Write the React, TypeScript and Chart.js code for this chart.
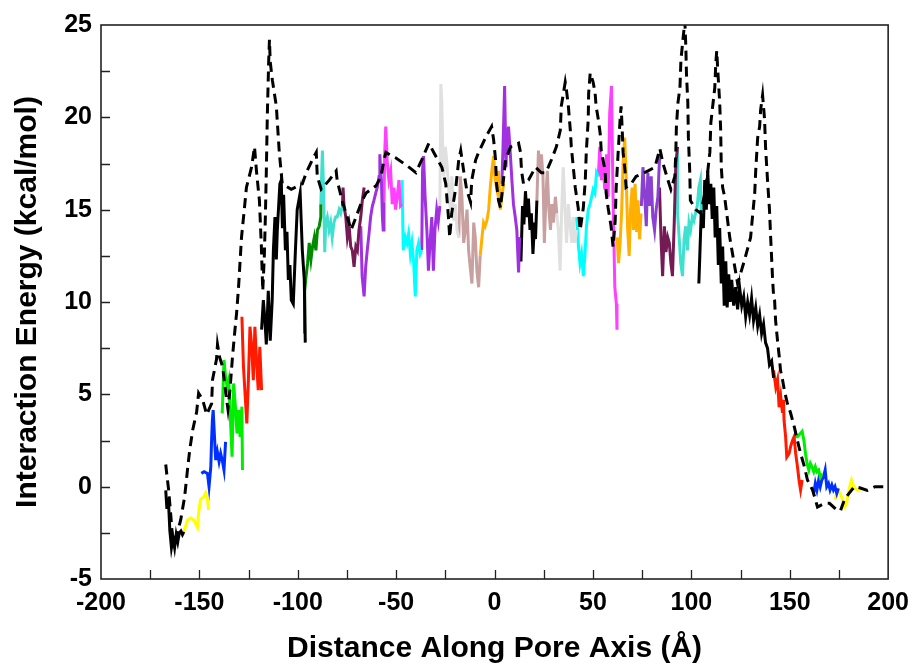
import React, { useEffect, useRef } from 'react';
import { Chart, registerables } from 'chart.js';

Chart.register(...registerables);

// ---- axis definition ----
const X_MIN = -200;
const X_MAX = 200;
const X_STEP = 50;
const X_MINOR = 25;
const Y_MIN = -5;
const Y_MAX = 25;
const Y_STEP = 5;
const Y_MINOR = 2.5;
const X_TITLE = 'Distance Along Pore Axis (Å)';
const Y_TITLE = 'Interaction Energy (kcal/mol)';

// ---- dashed reference profile [x, y] ----
const dashedProfile: number[][] = [
  [-167.1, 1.2], [-166.6, 0.7], [-165.6, -0.2], [-164.5, -1.6], [-163.5, -3.0], [-161.5, -2.6], [-159.5, -1.8],
  [-157.5, -0.55], [-155.9, 1.06], [-154.9, 2.0], [-153.4, 3.07], [-151.4, 4.04], [-150.4, 5.07], [-148.3, 4.7],
  [-146.3, 3.9], [-143.8, 4.5], [-143.3, 5.8], [-141.3, 6.9], [-140.8, 7.7], [-139.7, 7.0], [-138.2, 6.5],
  [-136.5, 5.0], [-135.5, 4.2], [-134.5, 5.2], [-133.2, 7.0], [-132.1, 8.3], [-131.1, 9.4], [-130.1, 10.8],
  [-128.6, 13.5], [-127.1, 15.1], [-126.1, 16.2], [-123.5, 17.3], [-122.0, 18.4], [-121.0, 17.1], [-119.5, 15.5],
  [-118.5, 13.0], [-117.8, 10.6], [-117.0, 12.5], [-116.5, 14.5], [-116.0, 17.0], [-115.5, 20.0], [-114.8, 23.0],
  [-114.4, 24.2], [-114.0, 23.0], [-112.9, 22.0], [-110.9, 20.6], [-109.4, 18.1], [-107.9, 16.4], [-103.3, 16.1],
  [-97.7, 16.4], [-95.7, 17.0], [-92.6, 17.7], [-90.6, 18.1], [-90.1, 16.8], [-88.1, 16.1], [-84.0, 16.6],
  [-80.5, 17.1], [-80.0, 16.6], [-77.5, 15.5], [-74.9, 14.6], [-72.9, 13.9], [-70.4, 14.6], [-67.3, 15.5],
  [-65.3, 15.9], [-60.2, 16.3], [-57.7, 16.8], [-56.2, 17.7], [-55.2, 18.1], [-52.1, 17.9], [-50.1, 17.8],
  [-43.5, 17.3], [-40.0, 17.0], [-37.0, 17.7], [-33.4, 18.6], [-30.9, 18.1], [-26.8, 17.3], [-24.8, 16.4],
  [-23.3, 14.4], [-22.8, 13.5], [-21.8, 14.8], [-19.7, 16.2], [-18.2, 17.7], [-17.2, 18.2], [-15.7, 17.1],
  [-14.2, 16.1], [-12.2, 15.4], [-11.6, 16.6], [-9.6, 17.7], [-8.1, 18.1], [-4.6, 18.9], [-1.5, 19.5],
  [-0.5, 18.8], [0.5, 17.7], [1.0, 16.4], [2.0, 15.5], [3.0, 15.1], [5.6, 17.7], [8.1, 18.4], [12.2, 18.6],
  [13.2, 18.1], [13.7, 17.1], [14.7, 16.4], [17.2, 16.6], [20.8, 17.3], [23.8, 17.0], [25.8, 17.0], [27.3, 17.3],
  [28.9, 17.7], [31.4, 18.4], [33.4, 19.3], [33.9, 20.6], [35.9, 21.9], [36.5, 21.5], [37.5, 20.6], [38.5, 19.3],
  [39.0, 18.4], [40.0, 17.3], [41.0, 16.2], [42.5, 15.1], [43.5, 13.9], [45.1, 15.1], [46.1, 16.6], [46.6, 18.1],
  [47.6, 19.9], [47.8, 21.3], [48.6, 22.4], [50.1, 21.9], [51.1, 21.3], [51.6, 20.6], [52.7, 19.9], [53.7, 19.1],
  [54.2, 18.2], [56.2, 17.1], [56.7, 15.9], [57.7, 15.1], [59.2, 14.1], [60.2, 13.0], [61.3, 14.4], [61.8, 16.2],
  [62.8, 18.1], [63.8, 19.9], [64.3, 20.6], [64.8, 19.5], [65.3, 18.1], [66.3, 17.1], [66.8, 16.2], [69.4, 16.4],
  [71.9, 16.8], [78.0, 17.1], [81.5, 17.3], [84.0, 18.3], [85.6, 17.5], [88.1, 16.6], [89.6, 16.1], [91.6, 16.8],
  [92.1, 18.1], [92.4, 19.5], [93.2, 20.8], [94.2, 21.6], [94.7, 23.1], [95.7, 24.2], [96.7, 25.2], [97.2, 23.8],
  [97.5, 22.4], [98.2, 20.8], [98.5, 18.9], [99.2, 17.0], [99.5, 15.5], [102.3, 15.0], [104.8, 14.8], [107.4, 16.2],
  [109.4, 18.1], [109.9, 19.7], [111.9, 21.6], [112.4, 22.9], [112.9, 23.6], [113.4, 22.6], [114.4, 20.8],
  [114.9, 19.3], [115.2, 17.3], [115.9, 16.2], [116.9, 15.7], [119.5, 13.5], [123.5, 11.0], [127.1, 12.3],
  [130.1, 13.5], [132.2, 15.9], [132.7, 17.1], [133.7, 18.9], [134.7, 19.5], [135.2, 20.4], [136.2, 21.2],
  [137.2, 19.9], [137.7, 18.4], [138.7, 16.6], [139.7, 15.0], [140.3, 13.5], [141.3, 11.2], [141.8, 10.3],
  [142.3, 10.1], [142.8, 9.0], [143.8, 7.9], [144.8, 6.9], [145.3, 6.3], [146.3, 5.8], [147.3, 5.2], [148.8, 4.5],
  [150.4, 4.0], [152.4, 3.2], [153.9, 2.5], [155.5, 1.8], [157.5, 1.06], [159.0, 0.36], [161.6, -0.18],
  [164.1, -1.1], [167.7, -0.9], [170.2, -0.9], [174.3, -1.3], [175.8, -1.3], [177.8, -0.7], [180.3, -0.34],
  [182.8, 0.0], [185.9, -0.07], [189.4, -0.2], [193.4, 0.0], [199.5, 0.0],
];

// ---- coloured window segments [x, y] ----
const blackLeftBottom: number[][] = [
  [-167.1, -0.2], [-166.5, -1.2], [-165.8, -0.6], [-165.0, -2.4], [-164.2, -3.3], [-163.4, -2.8], [-162.6, -3.3],
  [-161.8, -2.6], [-161.0, -3.0], [-160.2, -2.5], [-159.4, -2.4], [-158.6, -2.6], [-157.9, -2.45],
];
const yellowLeft: number[][] = [
  [-157.9, -2.45], [-156.0, -1.8], [-154.4, -1.7], [-152.9, -1.8], [-151.0, -2.2], [-150.4, -1.4], [-149.4, -0.7],
  [-147.8, -0.55], [-146.8, -0.34], [-145.9, -0.7], [-145.3, -1.26],
];
const blueLeft: number[][] = [
  [-149.0, 0.72], [-147.6, 0.81], [-145.9, 0.72], [-145.1, 0.0], [-144.2, 1.08], [-143.8, 2.53], [-143.4, 3.6],
  [-143.0, 4.15], [-142.5, 3.07], [-142.0, 1.98], [-141.7, 1.44], [-140.9, 1.9], [-140.0, 1.35], [-139.2, 1.8],
  [-138.4, 1.44], [-137.5, 0.9], [-136.7, 2.43],
];
const greenLeft: number[][] = [
  [-138.4, 3.97], [-137.5, 6.86], [-136.7, 5.95], [-135.9, 5.4], [-135.1, 5.77], [-134.2, 3.6], [-133.4, 1.62],
  [-132.6, 5.59], [-131.7, 4.33], [-130.9, 2.89], [-130.1, 4.15], [-129.3, 2.7], [-128.4, 4.33], [-128.1, 0.9],
];
const redLeft: number[][] = [
  [-128.4, 9.2], [-127.6, 6.5], [-126.7, 4.87], [-125.9, 3.43], [-125.1, 5.77], [-124.3, 8.66], [-123.4, 7.58],
  [-122.6, 5.77], [-121.8, 8.66], [-120.9, 6.68], [-120.1, 5.23], [-119.3, 7.58], [-118.4, 5.23],
];
const blackLeftMain: number[][] = [
  [-118.4, 8.5], [-117.5, 10.1], [-116.7, 9.0], [-116.0, 7.7], [-115.0, 10.6], [-114.0, 7.9], [-113.0, 10.1],
  [-112.4, 12.8], [-111.6, 14.6], [-110.9, 12.3], [-110.4, 13.9], [-109.1, 16.4], [-108.4, 16.6], [-107.8, 14.0],
  [-107.2, 15.8], [-106.3, 12.8], [-105.5, 13.8], [-104.8, 11.2], [-104.0, 12.0], [-103.3, 10.1], [-102.3, 9.9],
  [-101.2, 12.8], [-100.3, 15.0], [-98.8, 15.9], [-97.7, 12.8], [-96.7, 11.2], [-96.2, 7.8],
];
const darkGreen: number[][] = [
  [-96.5, 8.3], [-96.5, 10.6], [-95.8, 11.4], [-95.0, 12.1], [-94.2, 13.2], [-93.3, 12.3], [-92.5, 13.0],
  [-91.6, 13.5], [-90.8, 12.8], [-90.0, 13.9], [-89.1, 14.1], [-88.3, 14.6], [-88.3, 15.3],
];
const turquoiseLeft: number[][] = [
  [-88.3, 15.3], [-87.5, 18.2], [-86.9, 16.1], [-86.3, 12.7], [-85.8, 14.3], [-85.0, 14.6], [-84.1, 13.9],
  [-83.3, 14.3], [-82.5, 13.5], [-81.6, 14.3], [-80.8, 14.6], [-80.0, 14.6], [-79.0, 15.0], [-78.2, 14.8], [-77.4, 15.2],
];
const maroonLeft: number[][] = [
  [-77.3, 15.2], [-77.0, 16.2], [-76.5, 15.2], [-75.6, 14.6], [-74.8, 13.5], [-73.9, 14.1], [-73.1, 13.0],
  [-72.3, 12.8], [-71.4, 11.9], [-70.5, 13.0], [-69.7, 12.8], [-68.9, 13.9], [-68.0, 14.6], [-67.2, 15.5], [-66.3, 16.2],
];
const violetLeft: number[][] = [
  [-68.0, 14.1], [-67.3, 11.4], [-66.3, 10.3], [-65.5, 11.9], [-64.7, 12.8], [-63.8, 13.7], [-63.0, 14.6],
  [-62.1, 15.2], [-61.3, 15.5], [-60.4, 15.9], [-59.6, 16.2], [-58.7, 16.8], [-58.3, 18.0], [-57.9, 17.1],
  [-57.5, 16.6], [-57.0, 14.6], [-56.6, 13.9], [-56.2, 15.4],
];
const magentaLeft: number[][] = [
  [-56.2, 15.4], [-55.8, 18.2], [-55.3, 19.5], [-54.5, 17.5], [-53.7, 16.6], [-52.8, 17.1], [-52.0, 15.3],
  [-51.1, 16.2], [-50.3, 15.0], [-49.5, 15.7], [-48.6, 16.6], [-47.8, 15.2], [-47.0, 15.3],
];
const cyanLeft: number[][] = [
  [-47.0, 16.6], [-46.4, 12.8], [-45.3, 13.5], [-44.5, 13.2], [-43.7, 13.7], [-42.8, 12.6], [-42.0, 13.2],
  [-41.1, 12.1], [-40.3, 10.3], [-39.5, 12.8], [-38.6, 13.2], [-37.8, 12.6], [-37.0, 12.8],
];
const violetMid: number[][] = [
  [-37.0, 12.8], [-36.6, 17.1], [-36.1, 17.9], [-35.3, 15.7], [-34.4, 13.9], [-33.6, 11.7], [-32.8, 13.2],
  [-31.9, 14.6], [-31.1, 11.7], [-30.3, 13.9], [-29.4, 15.0], [-28.6, 14.4], [-27.8, 15.2],
];
const greyLeft: number[][] = [
  [-27.8, 15.2], [-27.3, 21.8], [-26.8, 20.8], [-26.3, 18.0], [-25.8, 16.8], [-25.0, 18.4], [-24.2, 17.5],
  [-23.3, 16.1], [-22.5, 15.0], [-21.7, 16.8], [-20.8, 14.4], [-20.0, 15.3], [-19.1, 13.9], [-18.2, 13.5],
];
const brownLeft: number[][] = [
  [-18.2, 13.5], [-17.4, 16.8], [-16.6, 15.7], [-15.7, 13.2], [-14.9, 13.9], [-14.0, 15.0], [-13.2, 12.8],
  [-12.4, 11.9], [-11.5, 11.0], [-10.6, 14.3], [-9.8, 13.5], [-9.0, 11.7], [-8.1, 10.8], [-7.3, 12.5],
];
const orangeLeft: number[][] = [
  [-7.3, 12.5], [-6.4, 13.5], [-5.6, 14.3], [-4.8, 14.1], [-3.9, 14.4], [-3.0, 15.0], [-2.2, 16.2], [-1.4, 17.1],
  [-0.5, 17.9], [0.3, 16.6], [1.2, 16.1], [2.0, 17.1], [2.9, 15.0], [3.7, 15.7], [4.6, 16.4],
];
const violetRightMid: number[][] = [
  [3.7, 16.4], [4.3, 18.4], [5.1, 21.7], [5.8, 17.3], [6.2, 18.6], [7.1, 19.5], [7.9, 18.2], [8.8, 16.6],
  [9.6, 15.3], [10.5, 14.6], [11.3, 13.9], [12.2, 11.6], [12.7, 13.5],
];
const blackMid: number[][] = [
  [12.7, 13.5], [13.4, 12.2], [14.2, 15.2], [14.9, 14.2], [15.7, 16.0], [16.5, 14.6], [17.2, 15.6], [18.0, 13.9],
  [18.7, 14.8], [19.5, 12.6], [20.3, 14.3], [20.8, 13.4], [21.5, 15.5],
];
const brownRight: number[][] = [
  [21.5, 15.5], [22.3, 18.2], [23.0, 17.0], [23.8, 18.0], [24.6, 16.8], [25.3, 13.2], [26.1, 15.7], [26.8, 17.1],
  [27.6, 15.0], [28.4, 13.9], [29.1, 15.3], [29.9, 14.3], [30.9, 15.7], [31.6, 14.8],
];
const greyRight: number[][] = [
  [31.6, 14.8], [32.4, 13.9], [33.3, 11.7], [34.1, 15.0], [34.9, 17.3], [35.8, 15.0], [36.6, 13.2], [37.5, 15.3],
  [38.3, 14.3], [39.2, 13.2], [40.0, 14.6], [40.8, 13.2], [41.7, 13.9],
];
const cyanRight: number[][] = [
  [41.7, 14.6], [42.5, 13.2], [43.4, 12.1], [44.2, 12.6], [45.1, 11.4], [45.9, 12.5], [46.7, 14.1], [47.6, 15.0],
  [48.5, 15.3], [49.3, 15.7], [50.1, 16.1], [51.0, 15.9], [51.8, 17.0], [52.7, 16.8],
];
const magentaRight: number[][] = [
  [52.7, 16.8], [53.5, 18.4], [54.3, 16.6], [55.2, 17.5], [56.0, 16.1], [56.9, 18.0], [57.7, 15.7], [58.5, 20.2],
  [59.4, 21.7], [60.2, 15.7], [61.1, 10.8], [61.9, 9.9], [62.2, 8.5],
];
const orangeRight: number[][] = [
  [62.3, 13.5], [63.0, 12.1], [63.8, 13.2], [64.6, 15.0], [65.3, 17.5], [66.1, 18.9], [66.8, 17.1], [67.6, 14.0],
  [68.4, 12.5], [69.1, 15.0], [69.9, 16.2], [70.6, 13.9], [71.4, 16.4], [72.2, 13.8], [72.9, 15.5], [73.7, 13.4],
  [74.4, 14.8],
];
const indigoRight: number[][] = [
  [74.6, 15.2], [75.4, 17.3], [76.3, 15.7], [77.1, 14.1], [77.9, 17.0], [78.8, 15.2], [79.6, 16.8], [80.4, 14.6],
  [81.3, 13.9], [82.1, 15.0], [83.0, 15.7], [83.8, 17.7], [84.6, 18.0],
];
const maroonRight: number[][] = [
  [83.8, 16.2], [84.6, 13.4], [85.4, 11.4], [86.3, 14.1], [87.1, 12.7], [88.0, 13.5], [88.8, 13.2], [89.6, 12.1],
  [90.4, 11.4], [91.3, 14.3], [92.1, 17.5], [93.0, 18.4],
];
const turquoiseRight: number[][] = [
  [93.0, 18.2], [93.0, 14.8], [93.8, 13.5], [94.6, 12.1], [95.5, 11.4], [96.3, 13.4], [97.1, 14.1], [98.0, 12.8],
  [98.8, 14.3], [99.6, 13.9], [100.5, 14.6], [101.3, 14.4], [102.1, 14.8], [103.0, 15.2], [103.8, 16.2],
  [104.6, 16.6], [105.0, 14.8],
];
const blackRight: number[][] = [
  [105.0, 14.8], [104.3, 12.5], [103.8, 11.0], [104.6, 13.5], [105.3, 15.5], [106.1, 14.0], [106.8, 16.6],
  [107.6, 15.0], [108.3, 17.1], [109.1, 15.3], [109.9, 16.4], [110.6, 14.5], [111.4, 16.2], [112.1, 13.5],
  [112.9, 15.2], [113.7, 12.0], [114.4, 14.0], [115.2, 11.0], [115.9, 13.0], [116.7, 9.8], [117.5, 12.2],
  [118.2, 9.7], [119.0, 11.5], [119.7, 10.0], [120.5, 11.2], [121.5, 9.8], [122.5, 10.8], [123.5, 9.6],
  [124.5, 10.8], [125.6, 9.8], [126.6, 10.3], [127.6, 9.2], [128.6, 10.0], [129.6, 9.3], [130.6, 10.2],
  [131.6, 9.0], [132.7, 9.7], [133.7, 8.7], [134.7, 9.3], [135.7, 8.3], [136.7, 8.8], [137.7, 7.8], [138.7, 7.5],
  [139.7, 6.6], [140.8, 6.8], [141.8, 5.9],
];
const redRight: number[][] = [
  [141.8, 6.3], [142.9, 5.4], [143.8, 5.8], [144.6, 4.3], [145.4, 4.9], [146.3, 4.0], [146.8, 4.7], [147.1, 3.6],
  [147.9, 2.7], [148.5, 1.6], [149.7, 1.8], [150.5, 2.2], [151.4, 2.5], [152.2, 2.7], [153.0, 1.8], [153.9, 1.1],
  [154.7, 0.36], [155.5, -0.18], [156.3, 0.36],
];
const greenRight: number[][] = [
  [152.2, 2.7], [153.9, 2.7], [155.5, 2.9], [156.3, 3.0], [157.2, 2.5], [158.0, 1.8], [158.8, 1.26], [159.7, 0.9],
  [160.5, 1.26], [161.3, 1.08], [162.2, 0.81], [163.0, 1.08], [163.8, 0.81], [164.7, 0.9], [165.5, 0.54], [166.3, 0.72],
];
const blueRight: number[][] = [
  [162.2, -0.36], [163.0, 0.18], [163.8, -0.18], [164.7, 0.36], [165.5, 0.0], [166.3, 0.36], [167.2, 0.54],
  [168.0, 0.9], [168.8, 0.0], [169.7, 0.18], [170.5, -0.18], [171.4, 0.09], [172.2, -0.18], [173.0, 0.0],
  [173.9, -0.36], [174.7, -0.09],
];
const yellowRight: number[][] = [
  [173.0, -0.72], [173.9, -0.36], [174.7, -0.18], [175.5, -0.36], [176.3, -0.54], [177.2, -0.81], [178.0, -1.08],
  [178.9, -0.9], [179.7, -0.36], [180.5, 0.0], [181.4, 0.36], [182.2, 0.09], [183.0, -0.09], [184.7, -0.18],
  [186.4, -0.09],
];

// ---- colours ----
const C_BLACK = '#000000';
const C_YELLOW = '#FFFF00';
const C_BLUE = '#0030FF';
const C_GREEN = '#00EE00';
const C_RED = '#FF1A00';
const C_GREEN4 = '#008B00';
const C_TURQ = '#40E0D0';
const C_MAROON = '#741A55';
const C_VIOLET = '#A030E0';
const C_MAGENTA = '#FF40FF';
const C_CYAN = '#00FFFF';
const C_GREY = '#E0E0E0';
const C_BROWN = '#C8A0A0';
const C_ORANGE = '#FFB000';
const C_INDIGO = '#8A40D0';

const segments: [number[][], string][] = [
  [blackLeftBottom, C_BLACK], [yellowLeft, C_YELLOW], [blueLeft, C_BLUE], [greenLeft, C_GREEN],
  [redLeft, C_RED], [blackLeftMain, C_BLACK], [darkGreen, C_GREEN4], [turquoiseLeft, C_TURQ],
  [maroonLeft, C_MAROON], [violetLeft, C_VIOLET], [magentaLeft, C_MAGENTA], [cyanLeft, C_CYAN],
  [violetMid, C_VIOLET], [greyLeft, C_GREY], [brownLeft, C_BROWN], [orangeLeft, C_ORANGE],
  [violetRightMid, C_VIOLET], [blackMid, C_BLACK], [brownRight, C_BROWN], [greyRight, C_GREY],
  [cyanRight, C_CYAN], [magentaRight, C_MAGENTA], [orangeRight, C_ORANGE], [indigoRight, C_INDIGO],
  [maroonRight, C_MAROON], [turquoiseRight, C_TURQ], [blackRight, C_BLACK], [redRight, C_RED],
  [greenRight, C_GREEN], [blueRight, C_BLUE], [yellowRight, C_YELLOW],
];

const FONT = "'Liberation Sans', Arial, Helvetica, sans-serif";
const TICK_LEN = 9;

const framePlugin = {
  id: 'graceFrame',
  afterDatasetsDraw(chart: any) {
    const { ctx, chartArea } = chart;
    const { left, right, top, bottom } = chartArea;
    const xs = chart.scales.x;
    const ys = chart.scales.y;
    ctx.save();
    ctx.strokeStyle = '#222222';
    ctx.lineWidth = 1.6;
    ctx.strokeRect(left, top, right - left, bottom - top);
    ctx.beginPath();
    for (let v = X_MIN + X_MINOR; v < X_MAX; v += X_MINOR) {
      const px = Math.round(xs.getPixelForValue(v)) + 0.5;
      ctx.moveTo(px, bottom);
      ctx.lineTo(px, bottom - TICK_LEN);
    }
    for (let v = Y_MIN + Y_MINOR; v < Y_MAX; v += Y_MINOR) {
      const py = Math.round(ys.getPixelForValue(v)) + 0.5;
      ctx.moveTo(left, py);
      ctx.lineTo(left + TICK_LEN, py);
    }
    ctx.lineWidth = 1.3;
    ctx.stroke();
    ctx.restore();
  },
};

export default function App() {
  const ref = useRef<HTMLCanvasElement>(null);

  useEffect(() => {
    document.body.style.margin = '0';
    const toPts = (arr: number[][]) => arr.map(([x, y]) => ({ x, y }));
    const datasets: any[] = [
      {
        label: 'dashed',
        data: toPts(dashedProfile),
        borderColor: '#000000',
        borderWidth: 3,
        borderDash: [10, 6],
        showLine: true,
        pointRadius: 0,
        fill: false,
        order: 0,
      },
      ...segments.map(([arr, color], i) => ({
        label: 'seg' + i,
        data: toPts(arr),
        borderColor: color,
        borderWidth: 3,
        showLine: true,
        pointRadius: 0,
        fill: false,
        order: 1,
      })),
    ];

    const chart = new Chart(ref.current as HTMLCanvasElement, {
      type: 'scatter',
      data: { datasets },
      plugins: [framePlugin],
      options: {
        animation: false,
        responsive: false,
        events: [],
        layout: { padding: { top: 25, right: 27, left: 0, bottom: 0 } },
        plugins: { legend: { display: false }, tooltip: { enabled: false } },
        elements: { line: { tension: 0, borderJoinStyle: 'miter' } },
        scales: {
          x: {
            type: 'linear',
            min: X_MIN,
            max: X_MAX,
            afterFit: (s: any) => { s.height = 88; },
            grid: { display: false, drawTicks: false },
            border: { display: false },
            ticks: {
              stepSize: X_STEP,
              autoSkip: false,
              maxRotation: 0,
              padding: 9,
              color: '#000000',
              font: { family: FONT, size: 25, weight: 'bold' },
            },
            title: {
              display: true,
              text: X_TITLE,
              color: '#000000',
              padding: { top: 0, bottom: 0 },
              font: { family: FONT, size: 30, weight: 'bold' },
            },
          },
          y: {
            type: 'linear',
            min: Y_MIN,
            max: Y_MAX,
            afterFit: (s: any) => { s.width = 101; },
            grid: { display: false, drawTicks: false },
            border: { display: false },
            ticks: {
              stepSize: Y_STEP,
              autoSkip: false,
              padding: 9,
              color: '#000000',
              font: { family: FONT, size: 25, weight: 'bold' },
            },
            title: {
              display: true,
              text: Y_TITLE,
              color: '#000000',
              padding: { top: 10, bottom: 0 },
              font: { family: FONT, size: 30, weight: 'bold' },
            },
          },
        },
      } as any,
    });
    return () => chart.destroy();
  }, []);

  return (
    <div style={{ width: 918, height: 667 }}>
      <canvas ref={ref} width={918} height={667} style={{ display: 'block' }} />
    </div>
  );
}
